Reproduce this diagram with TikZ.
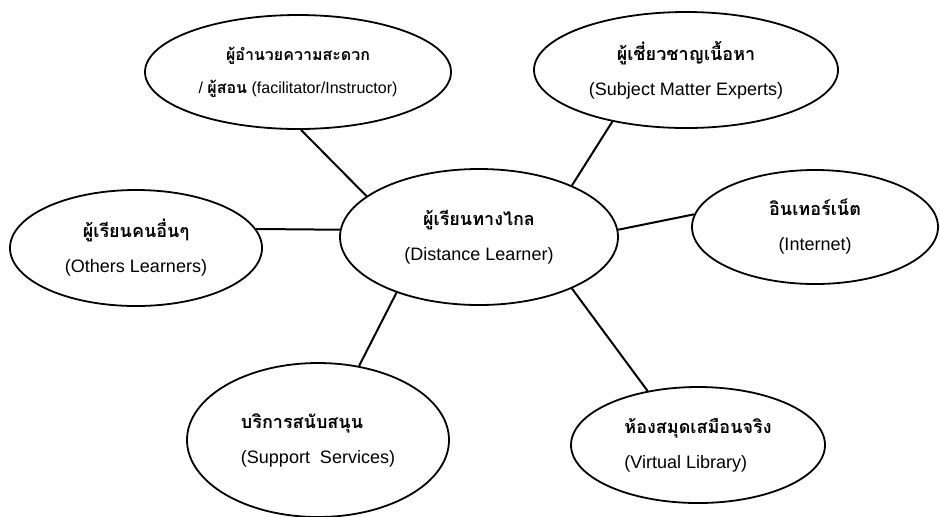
\documentclass[tikz,border=0pt]{standalone}
\usepackage{fontspec}
\setmainfont{Liberation Sans}
\newfontfamily\thaifont[Script=Thai]{Loma}
\usetikzlibrary{shapes.geometric}
\newcommand{\thai}[1]{{\thaifont\bfseries #1}}
\tikzset{bubble/.style={ellipse,draw,line width=0.9pt,inner sep=0pt,align=center,
    font=\fontsize{9}{17.5}\selectfont},
  link/.style={line width=1pt}}
\begin{document}
\begin{tikzpicture}[x=0.5pt,y=-0.5pt]
\useasboundingbox (0,0) rectangle (940,516);
% the learner in the middle
\node[bubble,minimum width=139pt,minimum height=68pt] (dl) at (479,237)
  {\thai{ผู้เรียนทางไกล}\\(Distance Learner)};
% the others round it
\node[bubble,minimum width=153pt,minimum height=57pt,font=\fontsize{8}{16.5}\selectfont] (fac) at (298,72)
  {\thai{ผู้อำนวยความสะดวก}\\/ \thai{ผู้สอน} (facilitator/Instructor)};
\node[bubble,minimum width=152pt,minimum height=58pt] (sme) at (686,70)
  {\thai{ผู้เชี่ยวชาญเนื้อหา}\\(Subject Matter Experts)};
\node[bubble,minimum width=126pt,minimum height=58pt] (oth) at (136,248)
  {\thai{ผู้เรียนคนอื่นๆ}\\(Others Learners)};
\node[bubble,minimum width=123pt,minimum height=57pt] (int) at (815,227)
  {\thai{อินเทอร์เน็ต}\\(Internet)};
\node[bubble,minimum width=131pt,minimum height=77pt,align=left] (sup) at (318,440)
  {\thai{บริการสนับสนุน}\\(Support\ \ Services)};
\node[bubble,minimum width=127pt,minimum height=58pt,align=left] (lib) at (698,445)
  {\thai{ห้องสมุดเสมือนจริง}\\(Virtual Library)};
\draw[link] (fac.-87) -- (dl.160);
\draw[link] (sme.-145) -- (dl.29);
\draw[link] (oth.9) -- (dl.177);
\draw[link] (int.174) -- (dl.3);
\draw[link] (sup.61) -- (dl.-146);
\draw[link] (lib.133) -- (dl.-29);
\end{tikzpicture}
\end{document}
